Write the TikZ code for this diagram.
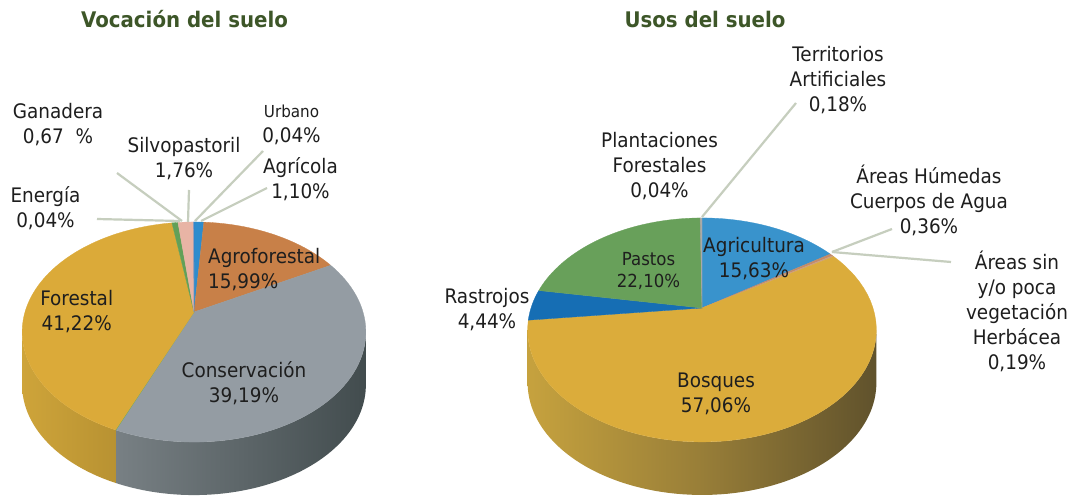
\documentclass[tikz,border=0pt]{standalone}
\usepackage{fontspec}
\setmainfont{DejaVu Sans}[FakeStretch=0.92]
\definecolor{txt}{RGB}{30,30,30}
\definecolor{ttlgreen}{RGB}{61,86,40}
\definecolor{lead}{RGB}{198,206,190}
% left pie
\definecolor{cAgricola}{RGB}{46,140,205}
\definecolor{cAgrofor}{RGB}{200,128,72}
\definecolor{cConserv}{RGB}{148,156,163}
\definecolor{cEnergia}{RGB}{110,170,90}
\definecolor{cForestal}{RGB}{219,170,57}
\definecolor{cGanadera}{RGB}{98,160,88}
\definecolor{cSilvo}{RGB}{232,180,165}
\definecolor{cUrbano}{RGB}{60,130,200}
\definecolor{sConsL}{RGB}{120,128,132}
\definecolor{sConsR}{RGB}{66,76,78}
\definecolor{sForL}{RGB}{206,164,58}
\definecolor{sForR}{RGB}{184,146,50}
% right pie
\definecolor{cAgricultura}{RGB}{57,147,204}
\definecolor{cHumedas}{RGB}{195,140,105}
\definecolor{cSinVeg}{RGB}{205,160,130}
\definecolor{cBosques}{RGB}{219,172,59}
\definecolor{cRastrojos}{RGB}{22,110,180}
\definecolor{cPastos}{RGB}{104,160,90}
\definecolor{cPlant}{RGB}{140,150,120}
\definecolor{cTerr}{RGB}{170,170,170}
\definecolor{sBosL}{RGB}{198,162,62}
\definecolor{sBosM}{RGB}{152,126,56}
\definecolor{sBosR}{RGB}{96,82,44}
\newcommand\pieslice[4]{\fill[#4,draw=#4,line width=0.3pt] (#1apex) -- plot[domain=#2:#3,samples=60,variable=\q] ({#1px(\q)},{#1py(\q)}) -- cycle;}
\newcommand\pieside[5]{\shade[left color=#4,right color=#5] plot[domain=#2:#3,samples=60,variable=\q] ({#1px(\q)},{#1py(\q)}) -- plot[domain=#3:#2,samples=60,variable=\q] ({#1px(\q)},{#1py(\q)+53}) -- cycle;}
\begin{document}
\begin{tikzpicture}[x=1pt,y=-1pt,
  declare function={
    lpx(\a)=194+169*sin(\a)/(1+0.182*cos(\a));
    lpy(\a)=312-106.4*cos(\a)/(1+0.182*cos(\a));
    rpx(\a)=702+171*sin(\a)/(1+0.196*cos(\a));
    rpy(\a)=308-107.7*cos(\a)/(1+0.196*cos(\a));
  },
  lab/.style={align=center,text=txt,inner sep=0pt,font=\fontsize{20}{25}\selectfont},
  ttl/.style={text=ttlgreen,inner sep=0pt,font=\fontsize{21.5}{26}\selectfont\bfseries},
  leader/.style={draw=lead,line width=2.2pt}
]
\useasboundingbox (0,0) rectangle (1074,497);
\fill[white] (0,0) rectangle (1074,497);
\coordinate (lapex) at (194,312);
\coordinate (rapex) at (702,308);

% ---------- left pie: sides ----------
\pieside{l}{100.5}{202.7}{sConsL}{sConsR}
\pieside{l}{202.6}{259.5}{sForL}{sForR}
% ---------- left pie: top ----------
\pieslice{l}{0}{3.96}{cAgricola}
\pieslice{l}{3.96}{61.52}{cAgrofor}
\pieslice{l}{61.52}{202.61}{cConserv}
\pieslice{l}{202.61}{202.75}{cEnergia}
\pieslice{l}{202.75}{351.14}{cForestal}
\pieslice{l}{351.14}{353.56}{cGanadera}
\pieslice{l}{353.56}{359.89}{cSilvo}
\pieslice{l}{359.89}{360}{cUrbano}

% ---------- right pie: sides ----------
\shade[left color=sBosL,right color=sBosR,middle color=sBosM] plot[domain=101.3:258.7,samples=80,variable=\q] ({rpx(\q)},{rpy(\q)}) -- plot[domain=258.7:101.3,samples=80,variable=\q] ({rpx(\q)},{rpy(\q)+53}) -- cycle;
% ---------- right pie: top ----------
\pieslice{r}{0}{56.27}{cAgricultura}
\pieslice{r}{56.27}{57.56}{cHumedas}
\pieslice{r}{57.56}{58.25}{cSinVeg}
\pieslice{r}{58.25}{263.66}{cBosques}
\pieslice{r}{263.66}{279.65}{cRastrojos}
\pieslice{r}{279.65}{359.21}{cPastos}
\pieslice{r}{359.21}{359.35}{cPlant}
\pieslice{r}{359.35}{360}{cTerr}

% ---------- leaders ----------
\coordinate (ganL) at (117,173);  \coordinate (ganP) at (182,221);
\coordinate (eneL) at (97,219);   \coordinate (eneP) at (180,221);
\coordinate (silL) at (189,190);  \coordinate (silP) at (188,222);
\coordinate (urbL) at (263,151);  \coordinate (urbP) at (195,221);
\coordinate (agcL) at (267,188);  \coordinate (agcP) at (201,221);
\coordinate (terL) at (796,103);  \coordinate (terP) at (702,217);
\coordinate (humL) at (892,229);  \coordinate (humP) at (832,252);
\coordinate (sinL) at (951,262);  \coordinate (sinP) at (832,252);
\draw[leader] (ganL) -- (ganP);
\draw[leader] (eneL) -- (eneP);
\draw[leader] (silL) -- (silP);
\draw[leader] (urbL) -- (urbP);
\draw[leader] (agcL) -- (agcP);
\draw[leader] (terL) -- (terP);
\draw[leader] (humL) -- (humP);
\draw[leader] (sinL) -- (sinP);

% ---------- titles ----------
\node[ttl] (t1) at (184.5,19) {Vocación del suelo};
\node[ttl] (t2) at (705,19) {Usos del suelo};

% ---------- left labels ----------
\node[lab] (gan) at (58,124.5) {Ganadera\\0,67~~\%};
\node[lab] (sil) at (184,158.7) {Silvopastoril\\1,76\%};
\node[lab] (urb) at (291.5,125) {{\fontsize{16.5}{20}\selectfont Urbano}\\0,04\%};
\node[lab] (agc) at (300.5,179.3) {Agrícola\\1,10\%};
\node[lab] (ene) at (45.5,208.3) {Energía\\0,04\%};
\node[lab,align=left,anchor=west] (agf) at (208,269.7) {Agroforestal\\15,99\%};
\node[lab] (for) at (76.7,311.4) {Forestal\\41,22\%};
\node[lab] (con) at (244,382.7) {Conservación\\39,19\%};

% ---------- right labels ----------
\node[lab] (ter) at (838,80) {Territorios\\Artificiales\\0,18\%};
\node[lab] (pla) at (659.5,166) {Plantaciones\\Forestales\\0,04\%};
\node[lab] (hum) at (929,200) {Áreas Húmedas\\Cuerpos de Agua\\0,36\%};
\node[lab] (sinveg) at (1017,311.7) {Áreas sin\\y/o poca\\vegetación\\Herbácea\\0,19\%};
\node[lab] (agr) at (754,259) {Agricultura\\15,63\%};
\node[lab,font=\fontsize{18}{22}\selectfont] (pas) at (648.5,270.5) {Pastos\\22,10\%};
\node[lab] (ras) at (487,309.2) {Rastrojos\\4,44\%};
\node[lab] (bos) at (716,394) {Bosques\\57,06\%};
\end{tikzpicture}
\end{document}
